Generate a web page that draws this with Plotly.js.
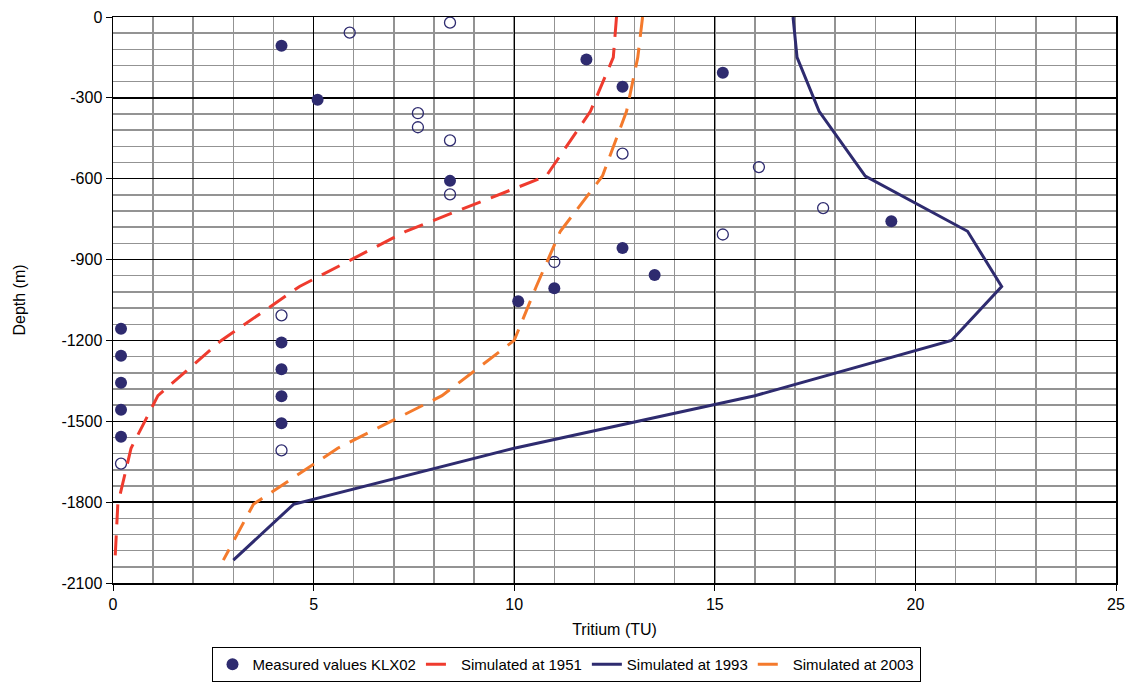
<!DOCTYPE html>
<html>
<head>
<meta charset="utf-8">
<script src="https://cdn.plot.ly/plotly-3.0.1.min.js"></script>
<style>
html,body{margin:0;padding:0;background:#fff;}
#chart{width:1132px;height:684px;}
</style>
</head>
<body>
<div id="chart"></div>
<script>
// Measured values KLX02 (filled markers)
const measuredTU = [4.2, 5.1, 11.8, 12.7, 15.2, 8.4, 19.4, 12.7, 13.5, 11.0, 10.1, 0.2, 0.2, 0.2, 0.2, 0.2, 4.2, 4.2, 4.2, 4.2];
const measuredDepth = [-107, -307, -158, -259, -207, -608, -758, -857, -957, -1006, -1055, -1157, -1257, -1357, -1457, -1557, -1208, -1307, -1407, -1507];
// Measured values (open markers)
const openTU = [5.9, 8.4, 7.6, 7.6, 8.4, 8.4, 12.7, 16.1, 17.7, 15.2, 11.0, 4.2, 4.2, 0.2];
const openDepth = [-58, -21, -357, -409, -458, -658, -507, -557, -709, -807, -909, -1107, -1608, -1657];
// Simulated profiles
const simDepth = [0, -150, -350, -590, -795, -1000, -1200, -1405, -1600, -1808, -2015];
const sim1951 = [12.55, 12.47, 11.9, 10.8, 7.3, 4.65, 2.7, 1.12, 0.45, 0.12, 0.05];
const sim1993 = [16.95, 17.05, 17.6, 18.75, 21.3, 22.15, 20.9, 16.0, 10.0, 4.5, 3.0];
const sim2003 = [13.2, 13.08, 12.8, 12.2, 11.15, 10.55, 10.0, 8.2, 5.6, 3.5, 2.75];
// Axis ticks
const xTicks = [0, 5, 10, 15, 20, 25];
const yTickVals = [0, -300, -600, -900, -1200, -1500, -1800, -2100];
const yTickText = ["0", "-300", "-600", "-900", "-1200", "-1500", "-1800", "-2100"];

const navy = "#2e2b6f";
const red = "#ef3b2e";
const orange = "#f47a2c";
const FONT = "Liberation Sans, Arial, Helvetica, sans-serif";

const traces = [
  {x: openTU, y: openDepth, type: "scatter", mode: "markers", showlegend: false,
   marker: {symbol: "circle-open", size: 11, color: navy, line: {width: 1.3, color: navy}}},
  {x: measuredTU, y: measuredDepth, type: "scatter", mode: "markers", name: "Measured values KLX02",
   marker: {symbol: "circle", size: 12, color: navy}},
  {x: sim1951, y: simDepth, type: "scatter", mode: "lines", name: "Simulated at 1951",
   line: {color: red, width: 3, dash: "20px,11px"}},
  {x: sim1993, y: simDepth, type: "scatter", mode: "lines", name: "Simulated at 1993",
   line: {color: navy, width: 3}},
  {x: sim2003, y: simDepth, type: "scatter", mode: "lines", name: "Simulated at 2003",
   line: {color: orange, width: 3, dash: "20px,11px"}}
];

const layout = {
  width: 1132, height: 684,
  margin: {l: 113, r: 16, t: 17, b: 101, autoexpand: false},
  paper_bgcolor: "#fff", plot_bgcolor: "#fff",
  font: {family: FONT, size: 16, color: "#000"},
  showlegend: true,
  legend: {orientation: "h", x: 0.5, xanchor: "center", xref: "container",
           y: 0.054, yanchor: "top", yref: "container",
           bordercolor: "#000", borderwidth: 1, font: {family: FONT, size: 15, color: "#000"},
           tracegroupgap: 0, itemwidth: 30},
  xaxis: {
    automargin: false,
    range: [0, 25], tickvals: xTicks, ticks: "outside", ticklen: 6, tickcolor: "#000",
    showline: true, linecolor: "#000", linewidth: 1.5, mirror: true,
    showgrid: true, gridcolor: "#000", gridwidth: 1.3, zeroline: false,
    minor: {dtick: 1, showgrid: true, gridcolor: "#939393", gridwidth: 1.5},
    title: {text: "Tritium (TU)", font: {family: FONT, size: 16}, standoff: 12},
    tickfont: {family: FONT, size: 16}
  },
  yaxis: {
    automargin: false,
    range: [-2100, 0], tickvals: yTickVals, ticktext: yTickText, ticks: "outside", ticklen: 6, tickcolor: "#000",
    showline: true, linecolor: "#000", linewidth: 1.5, mirror: true,
    showgrid: true, gridcolor: "#000", gridwidth: 1.3, zeroline: false,
    minor: {dtick: 60, tick0: 0, showgrid: true, gridcolor: "#939393", gridwidth: 1.5},
    title: {text: "Depth (m)", font: {family: FONT, size: 16}, standoff: 32},
    tickfont: {family: FONT, size: 16}
  }
};

Plotly.newPlot("chart", traces, layout, {displayModeBar: false, staticPlot: true});
</script>
</body>
</html>
